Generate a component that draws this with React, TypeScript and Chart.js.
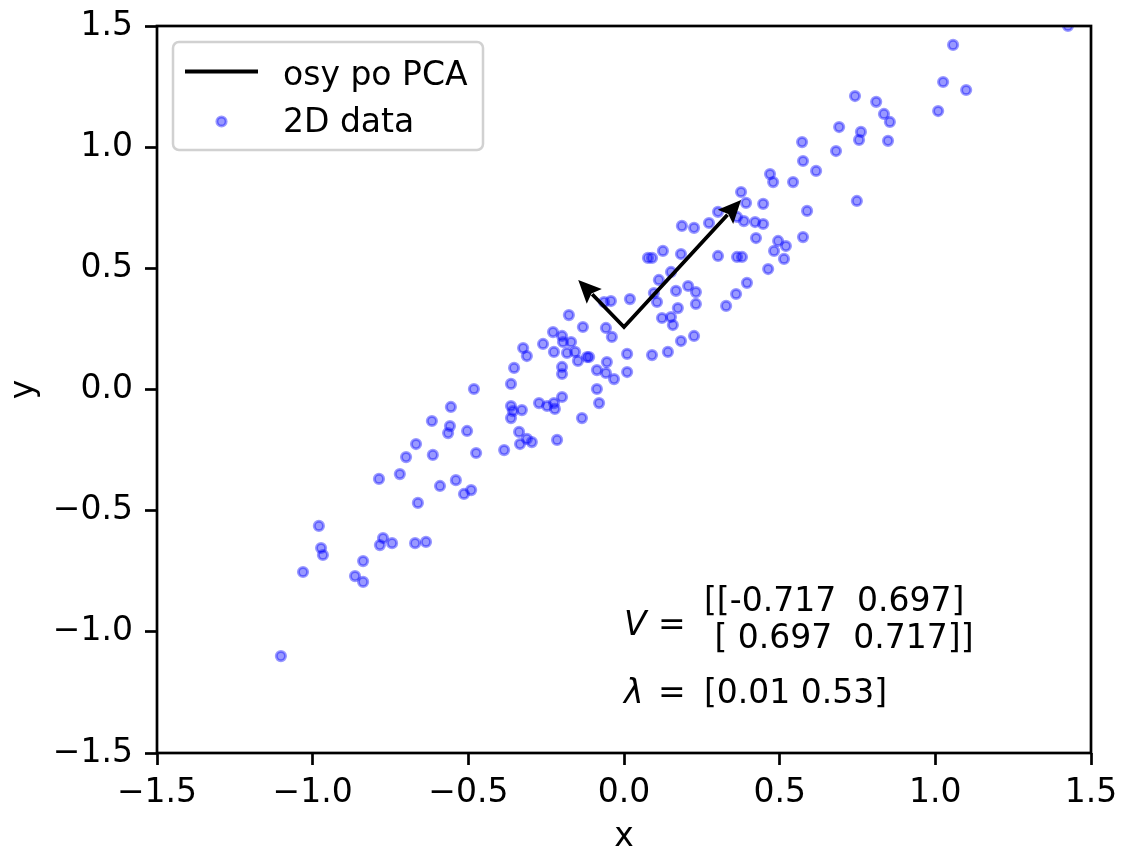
import { useEffect, useRef } from 'react';
import { Chart, registerables } from 'chart.js';

Chart.register(...registerables);

// ---- data ----
const dataX = [
  -1.102, -1.031, -0.980, -0.973, -0.967, -0.864, -0.838, -0.838, -0.787, -0.774,
  -0.784, -0.745, -0.720, -0.700, -0.668, -0.671, -0.662, -0.636, -0.617, -0.614,
  -0.591, -0.556, -0.565, -0.559, -0.540, -0.514, -0.491, -0.504, -0.482, -0.475,
  -0.385, -0.363, -0.353, -0.363, -0.357, -0.363, -0.328, -0.337, -0.312, -0.334,
  -0.296, -0.324, -0.312, -0.260, -0.228, -0.199, -0.196, -0.170, -0.225, -0.183,
  -0.157, -0.148, -0.119, -0.112, -0.177, -0.132, -0.199, -0.199, -0.273, -0.247,
  -0.225, -0.222, -0.199, -0.215, -0.135, -0.087, -0.080, -0.087, -0.058, -0.032,
  -0.055, 0.010, 0.010, -0.064, -0.042, -0.058, -0.039, 0.019, 0.090, 0.141,
  0.183, 0.225, 0.122, 0.151, 0.157, 0.096, 0.106, 0.167, 0.206, 0.231,
  0.231, 0.173, 0.328, 0.360, 0.112, 0.151, 0.077, 0.090, 0.125, 0.183,
  0.302, 0.363, 0.379, 0.186, 0.225, 0.273, 0.302, 0.363, 0.385, 0.421,
  0.447, 0.376, 0.392, 0.447, 0.424, 0.495, 0.520, 0.482, 0.514, 0.575,
  0.588, 0.463, 0.395, 0.469, 0.479, 0.543, 0.572, 0.575, 0.617, 0.681,
  0.691, 0.761, 0.755, 0.742, 0.810, 0.835, 0.854, 0.848, 0.748, 1.009,
  1.025, 1.057, 1.099, 1.426,
];
const dataY = [
  -1.100, -0.753, -0.563, -0.654, -0.683, -0.770, -0.708, -0.794, -0.369, -0.613,
  -0.642, -0.634, -0.349, -0.279, -0.225, -0.634, -0.468, -0.629, -0.130, -0.270,
  -0.398, -0.072, -0.180, -0.151, -0.374, -0.431, -0.415, -0.171, 0.002, -0.262,
  -0.250, 0.023, 0.089, -0.068, -0.089, -0.118, -0.085, -0.175, -0.204, -0.225,
  -0.217, 0.171, 0.138, 0.188, 0.237, 0.221, 0.196, 0.196, 0.155, 0.151,
  0.155, 0.118, 0.134, 0.134, 0.307, 0.258, 0.093, 0.064, -0.056, -0.068,
  -0.056, -0.080, -0.031, -0.208, -0.118, 0.002, -0.056, 0.080, 0.068, 0.043,
  0.113, 0.072, 0.147, 0.361, 0.365, 0.254, 0.217, 0.373, 0.142, 0.155,
  0.200, 0.221, 0.295, 0.299, 0.266, 0.398, 0.361, 0.407, 0.427, 0.402,
  0.353, 0.336, 0.345, 0.394, 0.452, 0.485, 0.543, 0.543, 0.572, 0.559,
  0.551, 0.547, 0.547, 0.675, 0.667, 0.687, 0.733, 0.712, 0.695, 0.691,
  0.683, 0.815, 0.770, 0.766, 0.625, 0.613, 0.592, 0.572, 0.539, 0.629,
  0.737, 0.497, 0.440, 0.889, 0.856, 0.856, 1.021, 0.943, 0.902, 0.984,
  1.083, 1.063, 1.030, 1.211, 1.187, 1.137, 1.104, 1.026, 0.778, 1.149,
  1.269, 1.422, 1.236, 1.500,
];
const pcaOrigin = [0.0, 0.258];
const pcaTipsX = [-0.147, 0.376];
const pcaTipsY = [0.452, 0.782];
const axisTicks = [-1.5, -1.0, -0.5, 0.0, 0.5, 1.0, 1.5];
const seriesLabels = ['osy po PCA', '2D data'];
const matrixLines = ['[[-0.717  0.697]', ' [ 0.697  0.717]]'];
const eigenText = '[0.01 0.53]';
const annotAnchor = [0.0, -0.96];

// ---- styles ----
const FONT = '"DejaVu Sans", sans-serif';
const FS = 33;
const BLUE = 'rgba(0,0,255,0.4)';
const PT_R = 4.6;
const PT_W = 3;

const fmt = (v: number) => {
  const s = Math.abs(v).toFixed(1);
  return v < -1e-9 ? '\u2212' + s : s;
};

const overlay = {
  id: 'overlay',
  afterDatasetsDraw(chart: any) {
    const { ctx, chartArea: a, scales } = chart;
    const xs = scales.x;
    const ys = scales.y;
    ctx.save();

    // PCA arrows
    const ox = xs.getPixelForValue(pcaOrigin[0]);
    const oy = ys.getPixelForValue(pcaOrigin[1]);
    const bases: number[][] = [];
    const heads: number[][][] = [];
    for (let i = 0; i < pcaTipsX.length; i++) {
      const tx = xs.getPixelForValue(pcaTipsX[i]);
      const ty = ys.getPixelForValue(pcaTipsY[i]);
      const dx = tx - ox, dy = ty - oy;
      const len = Math.hypot(dx, dy);
      const ux = dx / len, uy = dy / len;
      const hl = 23, hw = 10.5;
      const bx = tx - ux * hl, by = ty - uy * hl;
      bases.push([bx + ux * 3, by + uy * 3]);
      heads.push([[tx, ty], [bx - uy * hw, by + ux * hw], [bx + ux * 4, by + uy * 4], [bx + uy * hw, by - ux * hw]]);
    }
    ctx.strokeStyle = '#000';
    ctx.lineWidth = 3.8;
    ctx.lineJoin = 'miter';
    ctx.beginPath();
    ctx.moveTo(bases[0][0], bases[0][1]);
    ctx.lineTo(ox, oy);
    ctx.lineTo(bases[1][0], bases[1][1]);
    ctx.stroke();
    ctx.fillStyle = '#000';
    for (const h of heads) {
      ctx.beginPath();
      ctx.moveTo(h[0][0], h[0][1]);
      for (let k = 1; k < h.length; k++) ctx.lineTo(h[k][0], h[k][1]);
      ctx.closePath();
      ctx.fill();
    }

    // annotation text
    const ax = xs.getPixelForValue(annotAnchor[0]);
    const ay = ys.getPixelForValue(annotAnchor[1]);
    ctx.fillStyle = '#000';
    ctx.textBaseline = 'alphabetic';
    ctx.textAlign = 'left';
    ctx.font = `italic ${FS}px ${FONT}`;
    ctx.fillText('V', ax, ay + 13);
    ctx.fillText('\u03bb', ax, ay + 81);
    ctx.font = `${FS}px ${FONT}`;
    ctx.fillText('=', ax + 34, ay + 13);
    ctx.fillText('=', ax + 34, ay + 81);
    ctx.fillText(matrixLines[0], ax + 80, ay - 11);
    ctx.fillText(matrixLines[1], ax + 80, ay + 26);
    ctx.fillText(eigenText, ax + 80, ay + 81);

    // frame
    ctx.strokeStyle = '#000';
    ctx.lineWidth = 2.7;
    ctx.strokeRect(a.left, a.top, a.right - a.left, a.bottom - a.top);

    // legend
    const lx = a.left + 16, ly = a.top + 16, lw = 310, lh = 108, r = 6;
    ctx.beginPath();
    ctx.moveTo(lx + r, ly);
    ctx.arcTo(lx + lw, ly, lx + lw, ly + lh, r);
    ctx.arcTo(lx + lw, ly + lh, lx, ly + lh, r);
    ctx.arcTo(lx, ly + lh, lx, ly, r);
    ctx.arcTo(lx, ly, lx + lw, ly, r);
    ctx.closePath();
    ctx.fillStyle = 'rgba(255,255,255,0.8)';
    ctx.fill();
    ctx.strokeStyle = 'rgba(204,204,204,0.9)';
    ctx.lineWidth = 2.5;
    ctx.stroke();

    ctx.strokeStyle = '#000';
    ctx.lineWidth = 4;
    ctx.beginPath();
    ctx.moveTo(a.left + 28, a.top + 45.5);
    ctx.lineTo(a.left + 101, a.top + 45.5);
    ctx.stroke();

    ctx.beginPath();
    ctx.arc(a.left + 64.5, a.top + 95.5, PT_R, 0, Math.PI * 2);
    ctx.fillStyle = BLUE;
    ctx.fill();
    ctx.strokeStyle = BLUE;
    ctx.lineWidth = PT_W;
    ctx.stroke();

    ctx.fillStyle = '#000';
    ctx.font = `${FS}px ${FONT}`;
    ctx.fillText(seriesLabels[0], a.left + 126, a.top + 59);
    ctx.fillText(seriesLabels[1], a.left + 126, a.top + 106);

    ctx.restore();
  },
};

export default function App() {
  const ref = useRef<HTMLCanvasElement>(null);

  useEffect(() => {
    document.body.style.margin = '0';
    const canvas = ref.current;
    if (!canvas) return;
    const points = dataX.map((x, i) => ({ x, y: dataY[i] }));
    const tickSet = (s: any) => {
      s.ticks = axisTicks.map((v) => ({ value: v }));
    };
    const zeroPad = (s: any) => {
      s.paddingTop = 0;
      s.paddingBottom = 0;
      s.paddingLeft = 0;
      s.paddingRight = 0;
    };
    const axisCommon = (title: string) => ({
      type: 'linear' as const,
      min: -1.5,
      max: 1.5,
      afterBuildTicks: tickSet,
      border: { display: false },
      grid: {
        display: true,
        drawOnChartArea: false,
        drawTicks: true,
        tickLength: 12,
        tickWidth: 2.7,
        tickColor: '#000',
      },
      title: {
        display: true,
        text: title,
        color: '#000',
        font: { family: FONT, size: FS, lineHeight: 1 },
        padding: { top: 8, bottom: 0 },
      },
      ticks: {
        color: '#000',
        font: { family: FONT, size: FS },
        callback: (v: any) => fmt(Number(v)),
        maxRotation: 0,
        autoSkip: false,
      },
    });
    const xOpts: any = axisCommon('x');
    xOpts.position = 'bottom';
    xOpts.ticks.padding = 9;
    xOpts.title.padding = { top: 0, bottom: 0 };
    xOpts.afterFit = (s: any) => {
      s.height = 101;
      zeroPad(s);
    };
    const yOpts: any = axisCommon('y');
    yOpts.position = 'left';
    yOpts.ticks.padding = 12;
    yOpts.afterFit = (s: any) => {
      s.width = 157;
      zeroPad(s);
    };

    const chart = new Chart(canvas, {
      type: 'scatter',
      data: {
        datasets: [
          {
            label: seriesLabels[1],
            data: points,
            backgroundColor: BLUE,
            borderColor: BLUE,
            borderWidth: PT_W,
            pointRadius: PT_R,
            clip: 0,
          } as any,
        ],
      },
      options: {
        responsive: false,
        animation: false,
        events: [],
        layout: { padding: { top: 26, right: 33, left: 0, bottom: 0 } },
        plugins: {
          legend: { display: false },
          tooltip: { enabled: false },
        },
        scales: { x: xOpts, y: yOpts },
      },
      plugins: [overlay],
    });
    return () => chart.destroy();
  }, []);

  return (
    <div style={{ position: 'absolute', left: 0, top: 0, width: 1124, height: 854 }}>
      <canvas ref={ref} width={1124} height={854} style={{ width: 1124, height: 854 }} />
    </div>
  );
}
